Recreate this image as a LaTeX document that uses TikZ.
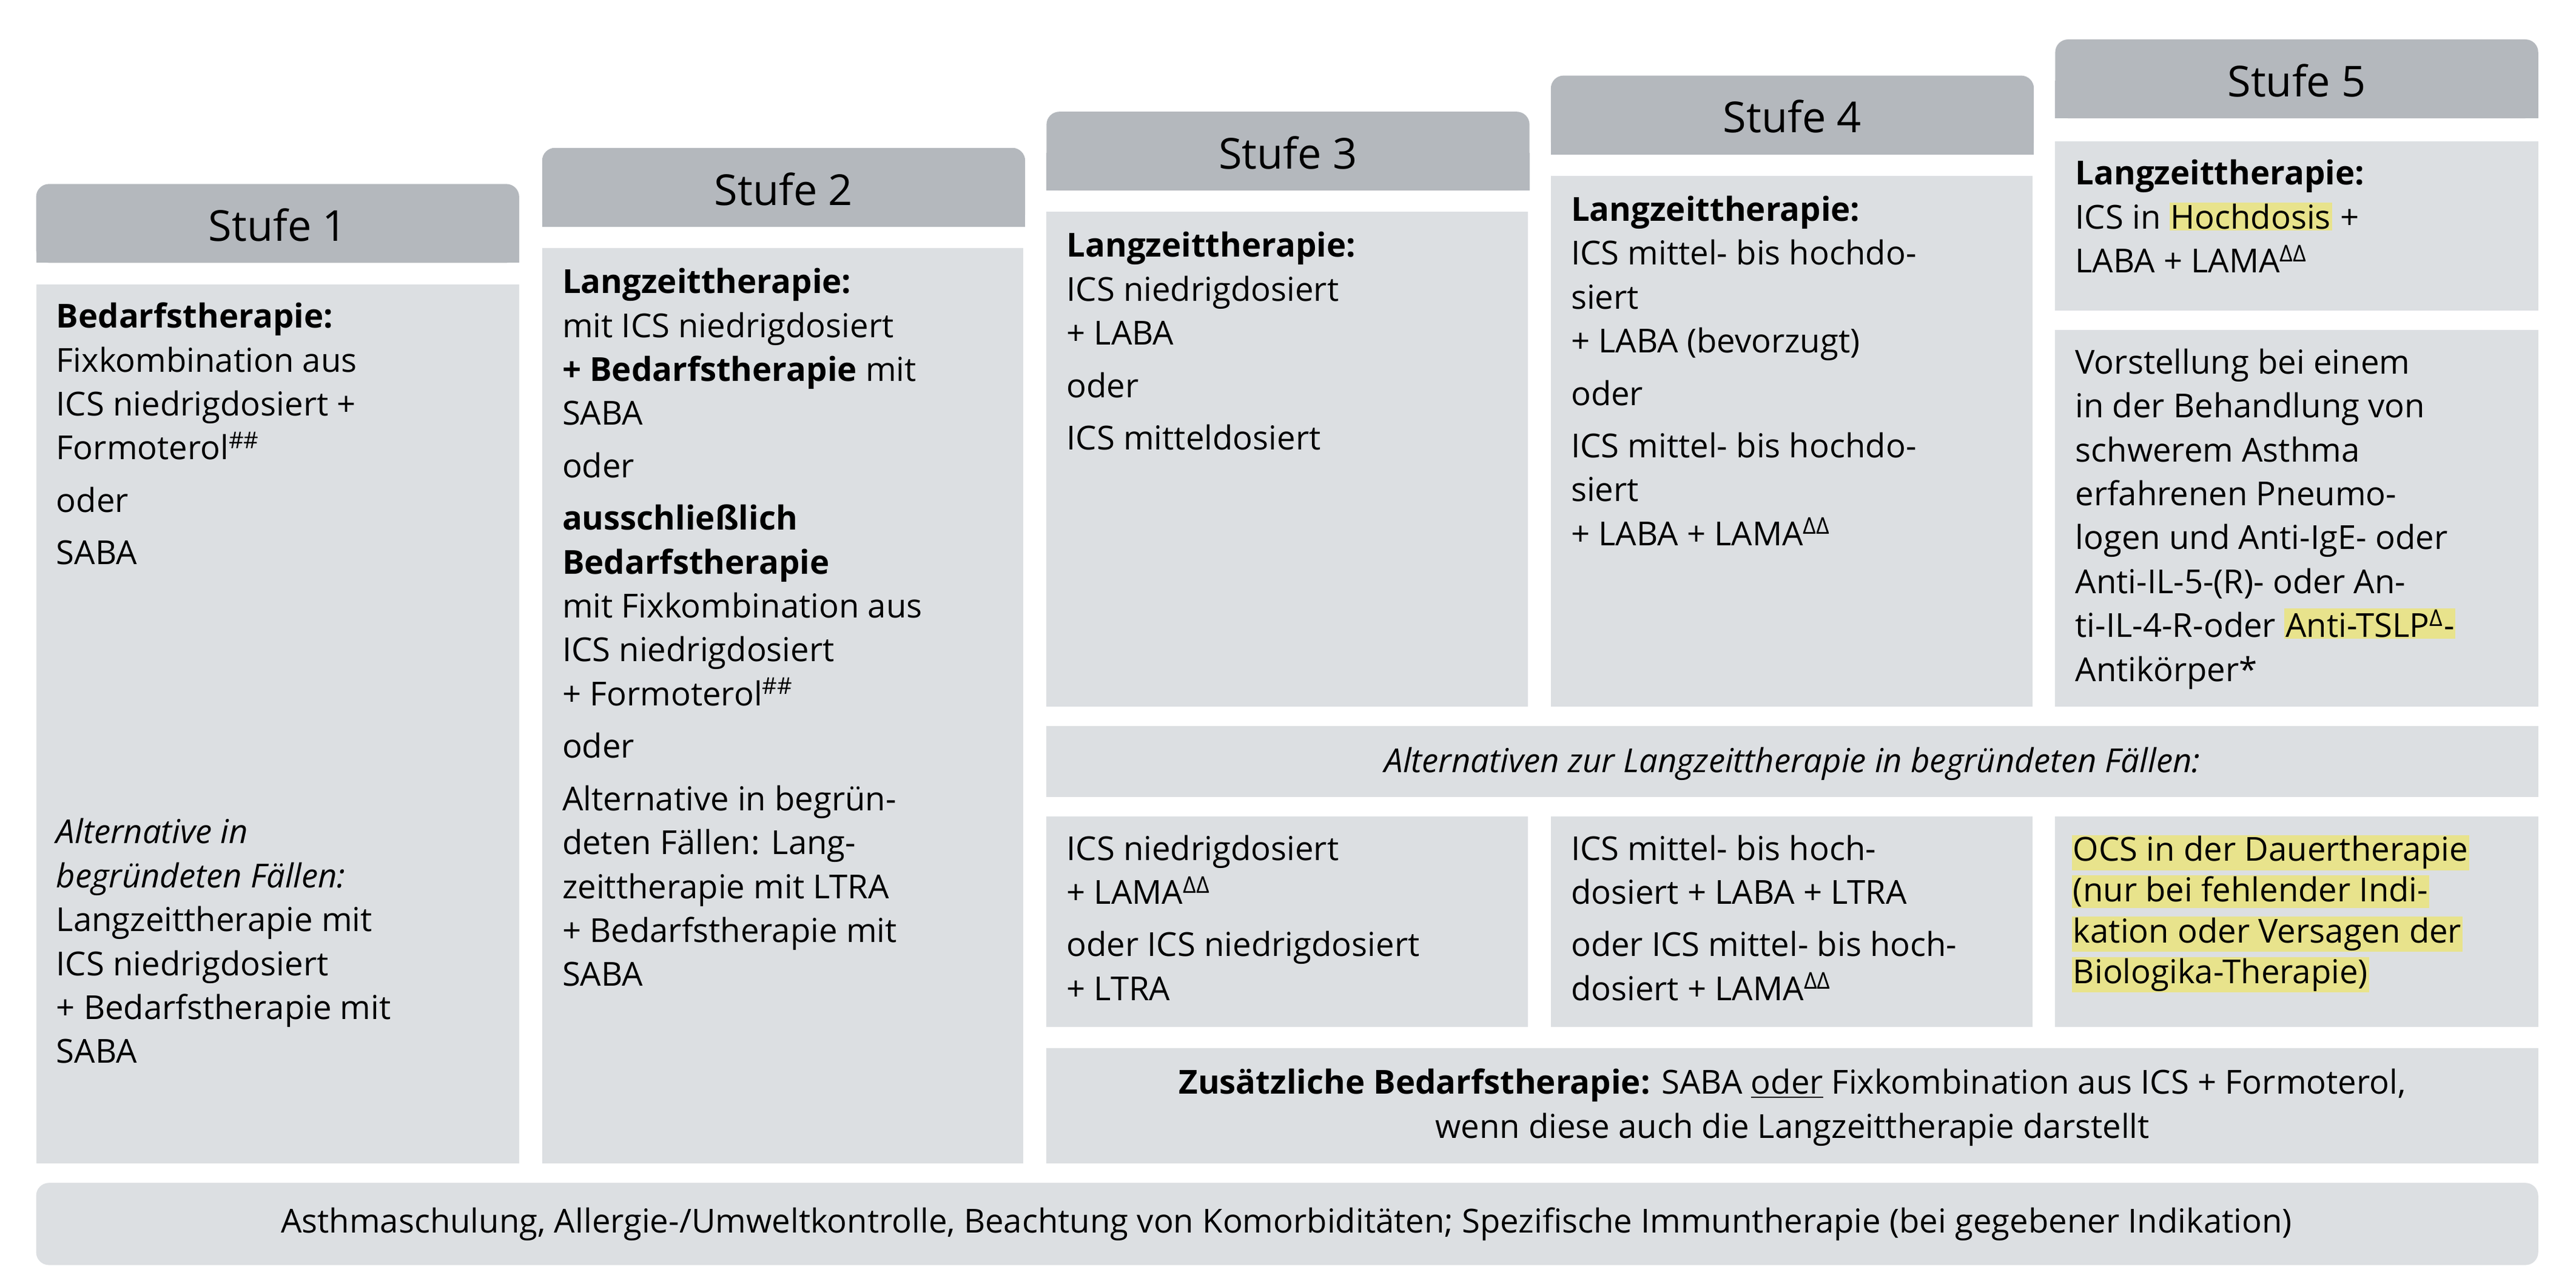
\documentclass[tikz,border=0pt]{standalone}
\usepackage{fontspec}
\setmainfont{Open Sans}
\definecolor{hdrgray}{HTML}{B4B8BD}
\definecolor{boxgray}{HTML}{DCDFE2}
\definecolor{hlyellow}{HTML}{E8E38C}
\newcommand{\hl}[1]{{\setlength\fboxsep{0.5pt}\colorbox{hlyellow}{#1}}}
\newcommand{\dd}{\textsuperscript{ΔΔ}}
\newcommand{\hh}{\textsuperscript{\#\#}}
\tikzset{
  hdr/.style={fill=hdrgray,rounded corners=6pt},
  body/.style={fill=boxgray},
  txt/.style={anchor=north west,inner sep=0pt,align=left,font=\fontsize{15.5}{20.6}\selectfont},
  ctxt/.style={inner sep=0pt,align=center,font=\fontsize{15.5}{20.6}\selectfont},
  htxt/.style={inner sep=0pt,font=\fontsize{20}{24}\selectfont}
}
\begin{document}
\begin{tikzpicture}[x=0.02709cm,y=-0.02709cm]
  \useasboundingbox (0,0) rectangle (1568,776);
  % headers and bodies of the five steps
  \foreach \n/\x/\y in {1/22/112,2/330/90,3/637/68,4/944/46,5/1251/24}{
    \fill[hdr] (\x,\y) rectangle (\x+294,\y+48);
    \fill[hdrgray] (\x,\y+25) rectangle (\x+294,\y+48);
    \node[htxt] (s\n) at (\x+147,\y+25) {Stufe \n};}
  \fill[body] (22,173) rectangle (316,708);
  \fill[body] (330,151) rectangle (623,708);
  \fill[body] (637,129) rectangle (930,430);
  \fill[body] (944,107) rectangle (1237,430);
  \fill[body] (1251,86) rectangle (1545,189);
  \fill[body] (1251,201) rectangle (1545,430);
  \fill[body] (637,442) rectangle (1545,485);
  \fill[body] (637,497) rectangle (930,625);
  \fill[body] (944,497) rectangle (1237,625);
  \fill[body] (1251,497) rectangle (1545,625);
  \fill[body] (637,638) rectangle (1545,708);
  \fill[body,rounded corners=6pt] (22,720) rectangle (1545,770);
  % texts
  \node[txt] (t1) at (34,184) {\textbf{Bedarfstherapie:}\\Fixkombination aus\\ICS niedrigdosiert +\\Formoterol\hh\\[4pt]oder\\[4pt]SABA};
  \node[txt] (t1b) at (34,498) {\textit{Alternative in}\\\textit{begründeten Fällen:}\\Langzeittherapie mit\\ICS niedrigdosiert\\+ Bedarfstherapie mit\\SABA};
  \node[txt] (t2) at (342,163) {\textbf{Langzeittherapie:}\\mit ICS niedrigdosiert\\\textbf{+ Bedarfstherapie} mit\\SABA\\[4pt]oder\\[4pt]\textbf{ausschließlich}\\\textbf{Bedarfstherapie}\\mit Fixkombination aus\\ICS niedrigdosiert\\+ Formoterol\hh\\[4pt]oder\\[4pt]Alternative in begrün-\\deten Fällen: Lang-\\zeittherapie mit LTRA\\+ Bedarfstherapie mit\\SABA};
  \node[txt] (t3) at (649,141) {\textbf{Langzeittherapie:}\\ICS niedrigdosiert\\+ LABA\\[4pt]oder\\[4pt]ICS mitteldosiert};
  \node[txt] (t4) at (956,119) {\textbf{Langzeittherapie:}\\ICS mittel- bis hochdo-\\siert\\+ LABA (bevorzugt)\\[4pt]oder\\[4pt]ICS mittel- bis hochdo-\\siert\\+ LABA + LAMA\dd};
  \node[txt] (t5a) at (1263,97) {\textbf{Langzeittherapie:}\\ICS in \hl{Hochdosis} +\\LABA + LAMA\dd};
  \node[txt] (t5b) at (1263,212) {Vorstellung bei einem\\in der Behandlung von\\schwerem Asthma\\erfahrenen Pneumo-\\logen und Anti-IgE- oder\\Anti-IL-5-(R)- oder An-\\ti-IL-4-R-oder \hl{Anti-TSLP\textsuperscript{Δ}-}\\Antikörper*};
  \node[ctxt] (alt) at (1091,465) {\textit{Alternativen zur Langzeittherapie in begründeten Fällen:}};
  \node[txt] (a3) at (649,508) {ICS niedrigdosiert\\+ LAMA\dd\\[4pt]oder ICS niedrigdosiert\\+ LTRA};
  \node[txt] (a4) at (956,508) {ICS mittel- bis hoch-\\dosiert + LABA + LTRA\\[4pt]oder ICS mittel- bis hoch-\\dosiert + LAMA\dd};
  \node[txt] (a5) at (1261,508) {\hl{OCS in der Dauertherapie}\\[-1.5pt]\hl{(nur bei fehlender Indi-}\\[-1.5pt]\hl{kation oder Versagen der}\\[-1.5pt]\hl{Biologika-Therapie)}};
  \node[ctxt] (zus) at (1091,674) {\textbf{Zusätzliche Bedarfstherapie:} SABA \underline{oder} Fixkombination aus ICS + Formoterol,\\wenn diese auch die Langzeittherapie darstellt};
  \node[ctxt] (base) at (783,745) {Asthmaschulung, Allergie-/Umweltkontrolle, Beachtung von Komorbiditäten; Spezifische Immuntherapie (bei gegebener Indikation)};
\end{tikzpicture}
\end{document}
